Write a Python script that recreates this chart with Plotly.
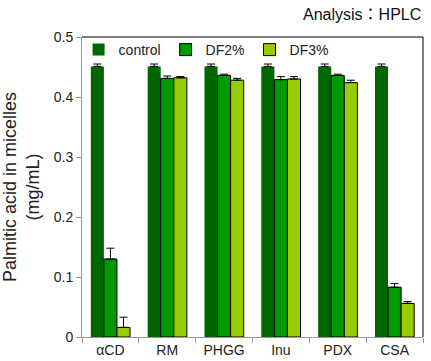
import plotly.graph_objects as go

categories = ["αCD", "RM", "PHGG", "Inu", "PDX", "CSA"]
control = [0.451, 0.451, 0.451, 0.451, 0.451, 0.451]
control_err = [0.004, 0.004, 0.004, 0.004, 0.004, 0.004]
df2 = [0.130, 0.431, 0.436, 0.429, 0.436, 0.083]
df2_err = [0.018, 0.004, 0.002, 0.005, 0.002, 0.006]
df3 = [0.016, 0.432, 0.428, 0.430, 0.424, 0.056]
df3_err = [0.017, 0.002, 0.003, 0.004, 0.004, 0.003]

series = [
    ("control", control, control_err, "#006600", 0),
    ("DF2%", df2, df2_err, "#009900", 1),
    ("DF3%", df3, df3_err, "#99CC00", 1),
]

fig = go.Figure()
for name, vals, errs, color, lw in series:
    fig.add_trace(go.Bar(
        name=name, x=categories, y=vals,
        marker=dict(color=color, line=dict(color="black", width=lw)),
        error_y=dict(type="data", array=errs, arrayminus=[0] * len(errs), symmetric=False,
                     color="black", thickness=1, width=4),
    ))

font_family = "Liberation Sans, Arial, Noto Sans CJK JP, sans-serif"
fig.update_layout(
    width=431, height=361,
    margin=dict(l=82, r=8, t=37, b=24),
    paper_bgcolor="white", plot_bgcolor="white",
    barmode="group", bargap=0.31, bargroupgap=0,
    font=dict(family=font_family, size=14, color="#222"),
    showlegend=True,
    legend=dict(orientation="h", x=-0.01, y=1.01, xanchor="left", yanchor="top",
                bgcolor="rgba(0,0,0,0)", font=dict(size=14), itemwidth=30,
                tracegroupgap=0, traceorder="normal"),
    xaxis=dict(showline=True, linecolor="#999", linewidth=1, ticks="outside",
               tickson="boundaries", tickcolor="#999", ticklen=5,
               tickfont=dict(size=14), showgrid=False, automargin=False),
    yaxis=dict(range=[0, 0.5], dtick=0.1, showline=True, linecolor="#999", linewidth=1,
               ticks="outside", tickcolor="#999", ticklen=5, showgrid=False, zeroline=False,
               tickfont=dict(size=14), automargin=False,
               title=dict(text="Palmitic acid in micelles<br>(mg/mL)", font=dict(size=18), standoff=12)),
    shapes=[
        dict(type="line", xref="x domain", yref="y domain", x0=0, x1=1, y0=1, y1=1,
             line=dict(color="black", width=1)),
        dict(type="line", xref="x domain", yref="y domain", x0=1, x1=1, y0=0, y1=1,
             line=dict(color="black", width=1)),
    ],
    annotations=[
        dict(text="Analysis：HPLC", xref="paper", yref="paper", x=1.0, y=1.0,
             xanchor="right", yanchor="bottom", yshift=12, showarrow=False,
             font=dict(size=16, color="#111")),
    ],
)

fig.write_html("out.html", config={"displayModeBar": False},
               post_script="document.body.style.margin='0';")
